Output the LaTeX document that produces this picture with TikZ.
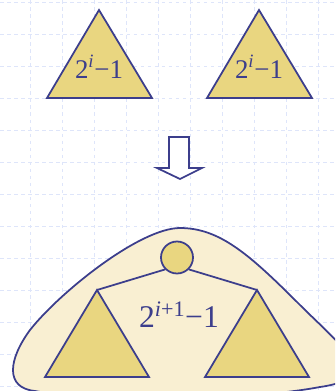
\documentclass[tikz,border=0pt]{standalone}
\usepackage{xcolor}
\usepackage{fontspec}
\setmainfont{Liberation Serif}
\usepackage{tikz}
\usetikzlibrary{positioning}
\definecolor{inkblue}{RGB}{60,62,140}
\definecolor{trifill}{RGB}{233,214,128}
\definecolor{blobfill}{RGB}{249,239,210}
\definecolor{gridblue}{RGB}{222,229,250}
\tikzset{
  gridline/.style={draw=gridblue, dashed, line width=0.8pt},
  tri/.style={draw=inkblue, fill=trifill, line width=1.5pt, line join=miter},
  blob/.style={draw=inkblue, fill=blobfill, line width=1.5pt},
  rootnode/.style={circle, draw=inkblue, fill=trifill, line width=1.5pt,
    minimum size=0.96cm, inner sep=0pt},
  edge/.style={inkblue, line width=1.5pt},
  bigarrow/.style={draw=inkblue, fill=white, line width=1.5pt, line join=miter},
  count/.style={text=inkblue, font=\fontsize{23}{23}\selectfont,
    inner sep=0pt, anchor=base},
  bigcount/.style={count, font=\fontsize{27}{27}\selectfont}
}

\begin{document}
\begin{tikzpicture}[x=0.03cm, y=-0.03cm]
  \useasboundingbox (0,0) rectangle (335,391);

  % ── background grid ───────────────────────────────────────────────
  \foreach \gx in {30,62,...,318}
    \draw[gridline] (\gx,0) -- (\gx,391);
  \foreach \gy in {2,34,...,386}
    \draw[gridline] (0,\gy) -- (335,\gy);

  % ── two trees of size 2^i-1 ───────────────────────────────────────
  \foreach \cx/\nm in {99/left, 259/right} {
    \draw[tri] (\cx,10) -- (\cx+53,98) -- (\cx-52,98) -- cycle;
    \node[count] (top\nm) at (\cx,78) {2\textsuperscript{\itshape i}−1};
  }

  % Block arrow (merge step)
  \draw[bigarrow] (169,137) -- (189,137) -- (189,168) -- (202,168)
    -- (180,179) -- (157,168) -- (169,168) -- cycle;

  % ── merged tree ───────────────────────────────────────────────────
  \begin{scope}
    \clip (0,0) rectangle (335,391);
    \draw[blob] (180,228) .. controls (220,228) and (250,255) .. (300,305)
      .. controls (340,345) and (385,378) .. (320,387)
      .. controls (240,402) and (90,402) .. (35,391)
      .. controls (5,388) and (8,360) .. (30,330)
      .. controls (60,292) and (140,228) .. (180,228) -- cycle;
  \end{scope}

  \foreach \cx/\nm in {97/l, 257/r} {
    \coordinate (\nm apex) at (\cx,290);
    \draw[tri] (\nm apex) -- (\cx+52,377) -- (\cx-52,377) -- cycle;
  }

  \node[rootnode] (root) at (177,257.5) {};
  \draw[edge] (root.south west) -- (lapex);
  \draw[edge] (root.south east) -- (rapex);

  \node[bigcount] (merged) at (179,327)
    {2\textsuperscript{\itshape i\upshape +1}−1};
\end{tikzpicture}
\end{document}
